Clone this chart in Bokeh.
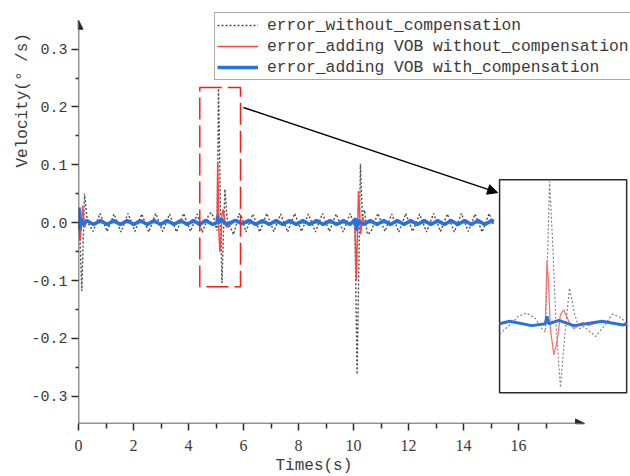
import numpy as np
from bokeh.plotting import figure
from bokeh.models import (Range1d, FixedTicker, PrintfTickFormatter, Legend, LegendItem,
                          Arrow, NormalHead, BoxAnnotation, Title)
from bokeh.embed import file_html
from bokeh.resources import INLINE

# ---------------- data ----------------
gray_t = [0.00, 0.05, 0.12, 0.22, 0.32, 0.53, 0.785, 1.04, 1.29, 1.545, 1.80, 2.05, 2.30, 2.555,
          2.81, 3.06, 3.31, 3.565, 3.82, 4.07, 4.32, 4.50, 4.643, 4.72, 4.82, 4.92, 5.00, 5.04,
          5.071, 5.09, 5.126, 5.167, 5.218, 5.27, 5.325, 5.388, 5.444, 5.495, 5.635, 5.733,
          5.833, 5.932, 6.00, 6.085, 6.34, 6.59, 6.845, 7.10, 7.35, 7.605, 7.86, 8.11,
          8.36, 8.615, 8.87, 9.12, 9.37, 9.625, 9.88, 10.05, 10.13, 10.25, 10.32, 10.40,
          10.50, 10.63, 10.885, 11.14, 11.39, 11.645, 11.90, 12.15, 12.40, 12.655, 12.91,
          13.16, 13.41, 13.665, 13.92, 14.17, 14.42, 14.675, 14.93, 15.10]
gray_v = [0.000, -0.020, -0.118, 0.050, 0.002, -0.015, 0.016, -0.015, 0.015, -0.016, 0.016,
          -0.015, 0.015, -0.016, 0.016, -0.015, 0.015, -0.016, 0.016, -0.015, 0.015, -0.0168,
          0.001, 0.012, 0.0175, 0.009, -0.008, -0.0136, 0.134, 0.232, 0.134, -0.002, -0.104,
          -0.018, 0.058, 0.0147, -0.008, -0.0044, -0.0207, -0.004, 0.0158, 0.010, 0.0005,
          -0.016, 0.015, -0.016, 0.016, -0.015, 0.015, -0.016, 0.016, -0.015, 0.015,
          -0.016, 0.016, -0.015, 0.015, -0.016, 0.016, -0.008, -0.262, 0.102, 0.010, 0.022,
          -0.020, -0.016, 0.016, -0.015, 0.015, -0.016, 0.016, -0.015, 0.015, -0.016, 0.016,
          -0.015, 0.015, -0.016, 0.016, -0.015, 0.015, -0.016, 0.016, -0.005]

red_t = [0.00, 0.06, 0.15, 0.22, 0.30, 0.45, 4.50, 4.62, 4.88, 5.04, 5.06, 5.079, 5.099, 5.14,
         5.179, 5.218, 5.257, 5.317, 5.376, 5.48, 5.55, 5.635, 5.71, 5.955, 6.00, 10.05, 10.10,
         10.18, 10.26, 10.33, 10.42, 10.50, 15.10]
red_v = [0.000, -0.031, 0.029, -0.008, 0.002, 0.000, 0.000, 0.004, -0.003, 0.000, 0.103,
         0.064, -0.007, -0.0506, -0.029, 0.015, 0.0228, 0.004, -0.008, 0.002, -0.003, 0.001,
         0.004, -0.002, -0.0005, 0.000, -0.100, 0.055, -0.020, 0.010, -0.004, 0.000, 0.000]

blue_t = [0.00, 0.02, 0.05, 0.09, 0.14, 0.30, 0.55, 0.80, 1.04, 1.28, 1.52, 1.77, 2.01, 2.25,
          2.50, 2.74, 2.98, 3.22, 3.47, 3.72, 3.95, 4.18, 4.40, 4.50, 4.62, 4.88, 5.04, 5.06,
          5.08, 5.20, 5.375, 5.71, 5.955, 6.00, 6.20, 6.445, 6.69, 6.935, 7.18, 7.425, 7.67,
          7.915, 8.16, 8.405, 8.65, 8.895, 9.14, 9.385, 9.63, 9.87, 10.08, 10.11, 10.16, 10.36,
          10.61, 10.855, 11.10, 11.345, 11.59, 11.835, 12.08, 12.325, 12.57, 12.815, 13.06,
          13.305, 13.55, 13.795, 14.04, 14.285, 14.53, 14.775, 15.02, 15.10]
blue_v = [0.000, 0.026, -0.013, 0.008, -0.004, 0.004, -0.003, 0.004, -0.003, 0.004, -0.003,
          0.004, -0.003, 0.004, -0.003, 0.004, -0.003, 0.004, -0.003, 0.004, -0.003, 0.004,
          -0.003, 0.000, 0.004, -0.003, 0.000, 0.012, 0.000, 0.0055, -0.003, 0.004, -0.002,
          -0.0005, 0.004, -0.003, 0.004, -0.003, 0.004, -0.003, 0.004, -0.003, 0.004, -0.003,
          0.004, -0.003, 0.004, -0.003, 0.004, -0.003, 0.007, -0.014, 0.004, -0.003, 0.004,
          -0.003, 0.004, -0.003, 0.004, -0.003, 0.004, -0.003, 0.004, -0.003, 0.004, -0.003,
          0.004, -0.003, 0.004, -0.003, 0.004, -0.003, 0.004, 0.002]

series_labels = ["error_without_compensation",
                 "error_adding VOB without_compensation",
                 "error_adding VOB with_compensation"]

x_ticks = [0, 2, 4, 6, 8, 10, 12, 14, 16]
x_minor = [1, 3, 5, 7, 9, 11, 13, 15, 17]
y_ticks = [-0.3, -0.2, -0.1, 0.0, 0.1, 0.2, 0.3]
y_minor = [-0.25, -0.15, -0.05, 0.05, 0.15, 0.25]

x_label = "Times(s)"
y_label = "Velocity(° /s)"

# zoom window (data) and where the inset sits (main coordinates)
zoom_box = dict(left=4.41, right=5.89, bottom=-0.1106, top=0.2338)
inset_src_x = (4.5, 6.0)
inset_src_y = (-0.1126, 0.235)
inset_tgt_x = (15.31, 19.93)
inset_tgt_y = (-0.294, 0.0744)

# ---------------- styles ----------------
GRAY = "#4a4a4a"
RED = "#ff4545"
BLUE = "#2672e2"
AX = "#2b2b2b"
TXT = "#3a3a3a"

p = figure(frame_width=552, frame_height=423, output_backend="svg", toolbar_location=None,
           x_range=Range1d(0, 20.07), y_range=Range1d(-0.347, 0.384),
           min_border_left=78, min_border_right=0, min_border_top=0, min_border_bottom=53)
p.outline_line_color = None
p.grid.visible = False
p.background_fill_color = "white"
p.border_fill_color = "white"

# axes
p.xaxis.ticker = FixedTicker(ticks=x_ticks, minor_ticks=x_minor)
p.yaxis.ticker = FixedTicker(ticks=y_ticks, minor_ticks=y_minor)
p.xaxis.formatter = PrintfTickFormatter(format="%d")
p.yaxis.formatter = PrintfTickFormatter(format="%.1f")
for ax in (p.xaxis[0], p.yaxis[0]):
    ax.axis_line_color = None
    ax.major_tick_line_color = AX
    ax.minor_tick_line_color = AX
    ax.major_tick_line_width = 1.5
    ax.minor_tick_line_width = 1.5
    ax.major_tick_in = 0
    ax.minor_tick_in = 0
    ax.major_label_text_color = TXT
p.xaxis.major_tick_out = 7
p.xaxis.minor_tick_out = 5
p.yaxis.major_tick_out = 7
p.yaxis.minor_tick_out = 3
p.xaxis.major_label_text_font = "Liberation Serif"
p.xaxis.major_label_text_font_size = "16px"
p.xaxis.major_label_standoff = 9
p.yaxis.major_label_text_font = "Liberation Mono"
p.yaxis.major_label_text_font_size = "15px"
p.yaxis.major_label_standoff = 4

# axis titles as side titles (positioned along the axis like the reference)
p.add_layout(Title(text=y_label, align="left", offset=256, standoff=-6,
                   text_font="Liberation Mono", text_font_size="16px",
                   text_font_style="normal", text_color=TXT), "left")
p.add_layout(Title(text=x_label, align="left", offset=197, standoff=3,
                   text_font="Liberation Mono", text_font_size="16px",
                   text_font_style="normal", text_color=TXT), "below")

# axis lines with arrow heads
p.add_layout(Arrow(end=NormalHead(size=9, line_color=AX, fill_color=AX, line_width=1),
                   x_start=0, y_start=-0.347, x_end=0, y_end=0.35,
                   line_color=AX, line_width=1.5))
p.add_layout(Arrow(end=NormalHead(size=9, line_color=AX, fill_color=AX, line_width=1),
                   x_start=0, y_start=-0.347, x_end=18.4, y_end=-0.347,
                   line_color=AX, line_width=1.5))

# main series
r_gray = p.line(gray_t, gray_v, line_color=GRAY, line_width=1.4, line_dash="2 2")
r_red = p.line(red_t, red_v, line_color=RED, line_width=1.5)
r_blue = p.line(blue_t, blue_v, line_color=BLUE, line_width=3.5)

# zoom box
p.add_layout(BoxAnnotation(fill_alpha=0, fill_color=None, line_color="#ff1a1a", line_alpha=1,
                           line_width=1.5, line_dash="22 6", **zoom_box))

# inset frame
p.add_layout(BoxAnnotation(left=inset_tgt_x[0], right=inset_tgt_x[1],
                           bottom=inset_tgt_y[0], top=inset_tgt_y[1],
                           fill_color="white", fill_alpha=1, line_color=AX, line_alpha=1,
                           line_width=1.5, level="underlay"))

# connecting arrow
p.add_layout(Arrow(end=NormalHead(size=10, line_color="black", fill_color="black"),
                   x_start=6.0, y_start=0.199, x_end=15.24, y_end=0.052,
                   line_color="black", line_width=1.5))

# inset contents through a sub-coordinate system
sub = p.subplot(x_source=Range1d(*inset_src_x), y_source=Range1d(*inset_src_y),
                x_target=Range1d(*inset_tgt_x), y_target=Range1d(*inset_tgt_y))


def window(t, v):
    t = np.asarray(t)
    v = np.asarray(v)
    m = (t >= inset_src_x[0]) & (t <= inset_src_x[1])
    return t[m], v[m]


gt, gv = window(gray_t, gray_v)
rt, rv = window(red_t, red_v)
bt, bv = window(blue_t, blue_v)
sub.line(gt, gv, line_color="#7a7a7a", line_width=1.1, line_dash="2 2")
sub.line(rt, rv, line_color="#ff6a6a", line_width=1.2)
sub.line(bt, bv, line_color=BLUE, line_width=3)

# legend
legend = Legend(items=[LegendItem(label=series_labels[0], renderers=[r_gray]),
                       LegendItem(label=series_labels[1], renderers=[r_red]),
                       LegendItem(label=series_labels[2], renderers=[r_blue])],
                location=(136, 343))
legend.label_text_font = "Liberation Mono"
legend.label_text_font_size = "16.3px"
legend.label_text_color = TXT
legend.glyph_width = 41
legend.glyph_height = 20
legend.label_height = 20
legend.label_standoff = 9
legend.spacing = 1
legend.padding = 2
legend.margin = 0
legend.border_line_color = "#555555"
legend.border_line_width = 1
legend.background_fill_alpha = 1
p.add_layout(legend)

open("out.html", "w").write(file_html(p, INLINE))
